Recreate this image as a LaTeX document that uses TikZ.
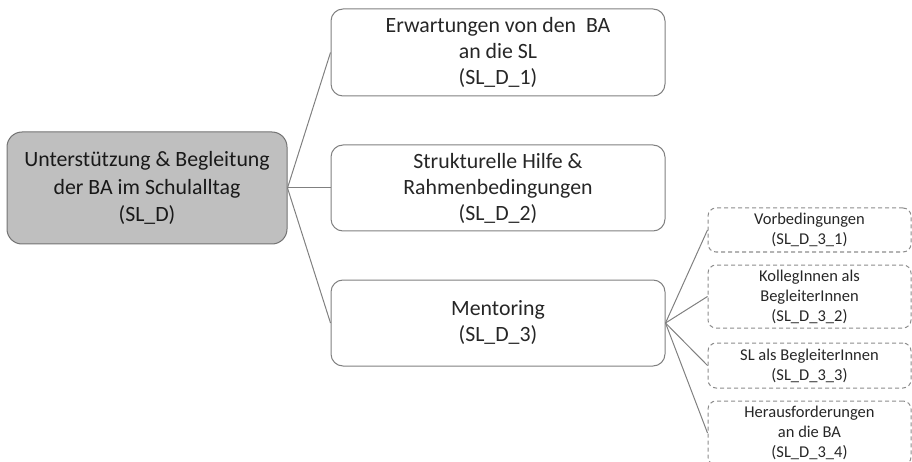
\documentclass[tikz,border=0pt]{standalone}
\usepackage{fontspec}
\setmainfont{Carlito}
\begin{document}
\begin{tikzpicture}[x=1pt,y=-1pt,
  big/.style={draw=black!50,line width=1pt,rounded corners=12pt,align=center,
    minimum width=334pt,inner sep=0pt,text=black!85,font=\fontsize{21.8}{26}\selectfont},
  rootbox/.style={draw=black!55,line width=1pt,fill=black!25,rounded corners=15pt,align=center,
    minimum width=280pt,minimum height=112pt,inner sep=0pt,text=black!90,font=\fontsize{21.8}{27.5}\selectfont},
  small/.style={draw=black!45,line width=1pt,dash pattern=on 4pt off 3pt,rounded corners=8pt,align=center,
    minimum width=203pt,inner sep=0pt,text=black!85,font=\fontsize{16.5}{20}\selectfont},
  conn/.style={draw=black!50,line width=1pt}]
\useasboundingbox (0,0) rectangle (912,462);
\node[rootbox] (root) at (147,188) {Unterstützung \& Begleitung\\der BA im Schulalltag\\(SL\_D)};
\node[big,minimum height=87pt] (b1) at (498,52.5) {Erwartungen von den\ \ BA\\an die SL\\(SL\_D\_1)};
\node[big,minimum height=86pt] (b2) at (498,188) {Strukturelle Hilfe \&\\Rahmenbedingungen\\(SL\_D\_2)};
\node[big,minimum height=86pt] (b3) at (498,323) {Mentoring\\(SL\_D\_3)};
\node[small,minimum height=44pt] (s1) at (809.5,230) {Vorbedingungen\\(SL\_D\_3\_1)};
\node[small,minimum height=63pt] (s2) at (809.5,296.5) {KollegInnen als\\BegleiterInnen\\(SL\_D\_3\_2)};
\node[small,minimum height=45pt] (s3) at (809.5,365.5) {SL als BegleiterInnen\\(SL\_D\_3\_3)};
\node[small,minimum height=64pt] (s4) at (809.5,433) {Herausforderungen\\an die BA\\(SL\_D\_3\_4)};
\draw[conn] (root.east) -- (b1.west);
\draw[conn] (root.east) -- (b2.west);
\draw[conn] (root.east) -- (b3.west);
\draw[conn] (b3.east) -- (s1.west);
\draw[conn] (b3.east) -- (s2.west);
\draw[conn] (b3.east) -- (s3.west);
\draw[conn] (b3.east) -- (s4.west);
\end{tikzpicture}
\end{document}
